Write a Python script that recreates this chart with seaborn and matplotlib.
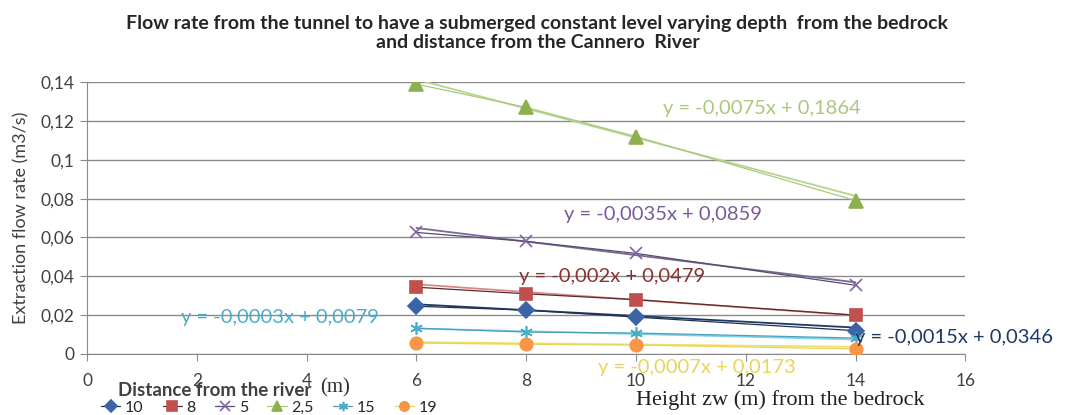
import numpy as np
import pandas as pd
import matplotlib
matplotlib.use('Agg')
import matplotlib.pyplot as plt
import seaborn as sns
from matplotlib.ticker import FuncFormatter, MultipleLocator

# dati
height = [6, 8, 10, 14]
distance_labels = ['10', '8', '5', '2,5', '15', '19']
q_10 = [0.0246, 0.0226, 0.019, 0.012]
q_8 = [0.0344, 0.031, 0.028, 0.020]
q_5 = [0.0626, 0.058, 0.0518, 0.0354]
q_2_5 = [0.139, 0.127, 0.112, 0.079]
q_15 = [0.0133, 0.0113, 0.0108, 0.0082]
q_19 = [0.0056, 0.005, 0.0046, 0.0026]

# rette di tendenza (pendenza, intercetta) come scritte nel grafico
trend_slope = [-0.0015, -0.002, -0.0035, -0.0075, -0.0007, -0.0003]
trend_icpt = [0.0346, 0.0479, 0.0859, 0.1864, 0.0173, 0.0079]

eq_texts = ['y = -0,0075x + 0,1864', 'y = -0,0035x + 0,0859', 'y = -0,002x + 0,0479',
            'y = -0,0003x + 0,0079', 'y = -0,0015x + 0,0346', 'y = -0,0007x + 0,0173']

series = [q_10, q_8, q_5, q_2_5, q_15, q_19]
marker_colors = ['#3b64a8', '#c0504d', '#8064a2', '#8fb04f', '#4bacc6', '#f79646']
line_colors = ['#1f3050', '#5a2a2a', '#5a4a70', '#a9c97c', '#4a9fc0', '#e8d45a']
trend_colors = ['#1f3864', '#d98a88', '#7a6a90', '#b8d48e', '#7fd0e8', '#f0df6a']
markers = ['D', 's', 'x', '^', (6, 2, 0), 'o']
msizes = [8, 9, 9, 10, 9, 9]

df = pd.DataFrame({
    'height': np.tile(height, len(series)),
    'q': np.concatenate(series),
    'dist': np.repeat(distance_labels, len(height)),
})

sans = ['Lato', 'DejaVu Sans']
serif = ['Liberation Serif', 'DejaVu Serif']

sns.set_style('white')
plt.rcParams['font.family'] = sans

fig = plt.figure(figsize=(10.75, 4.15), dpi=100)
ax = fig.add_axes([0.081, 0.147, 0.817, 0.655])

xx = np.array([6, 14])
for i, lab in enumerate(distance_labels):
    ax.plot(xx, trend_slope[i] * xx + trend_icpt[i], color=trend_colors[i], lw=1.3, zorder=2)

for i, lab in enumerate(distance_labels):
    sub = df[df['dist'] == lab]
    sns.lineplot(data=sub, x='height', y='q', ax=ax, color=line_colors[i], lw=0.9,
                 marker=markers[i], markersize=msizes[i],
                 markerfacecolor=marker_colors[i], markeredgecolor=marker_colors[i],
                 markeredgewidth=1.2, label=lab, zorder=3)

ax.set_xlim(0, 16)
ax.set_ylim(0, 0.14)
ax.xaxis.set_major_locator(MultipleLocator(2))
ax.yaxis.set_major_locator(MultipleLocator(0.02))
ax.yaxis.set_major_formatter(FuncFormatter(lambda v, p: '0' if abs(v) < 1e-9 else f'{v:.2f}'.rstrip('0').replace('.', ',')))
ax.grid(axis='y', color='#8a8a8a', lw=1)
ax.set_axisbelow(True)
for s in ['top', 'right']:
    ax.spines[s].set_visible(False)
for s in ['left', 'bottom']:
    ax.spines[s].set_color('#8a8a8a')
ax.tick_params(axis='both', direction='out', length=5, color='#8a8a8a', labelsize=12.5,
               labelcolor='#404040', left=True, bottom=True)
ax.tick_params(axis='x', pad=9)
ax.tick_params(axis='y', pad=4)
ax.set_xlabel('')
ax.set_ylabel('Extraction flow rate (m3/s)', fontsize=13, color='#404040', labelpad=8)

# equazioni
eq_pos = [(12.3, 0.1262), (10.5, 0.0718), (9.57, 0.0400), (3.52, 0.0190), (15.8, 0.0087), (11.1, -0.0072)]
eq_cols = ['#a9c97c', '#7a5a9a', '#8b3030', '#4bacc6', '#1f3864', '#e8d45a']
for t, (x, y), c in zip(eq_texts, eq_pos, eq_cols):
    ax.text(x, y, t, color=c, fontsize=14.5, ha='center', va='center', clip_on=False, zorder=5)

ax.get_legend().remove()
handles, labels = ax.get_legend_handles_labels()
fig.legend(handles, labels, ncol=6, loc='center left', bbox_to_anchor=(0.085, 0.018),
           frameon=False, fontsize=11.5, handlelength=1.2, handletextpad=0.3, columnspacing=1.2,
           markerscale=0.75, borderpad=0.1)

fig.text(0.11, 0.06, 'Distance from the river', fontsize=13.5, fontweight='bold', color='#404040', va='center')
fig.text(0.298, 0.066, '(m)', fontsize=15, family=serif, color='#303030', va='center')
fig.text(0.726, 0.036, 'Height zw (m) from the bedrock', fontsize=16, family=serif, color='#202020',
         ha='center', va='center')

fig.suptitle('Flow rate from the tunnel to have a submerged constant level varying depth  from the bedrock\n'
             'and distance from the Cannero  River', fontsize=14, fontweight='bold', color='#262626',
             x=0.5, y=0.963, va='top', linespacing=1.15)

fig.savefig('out.png', dpi=100)
